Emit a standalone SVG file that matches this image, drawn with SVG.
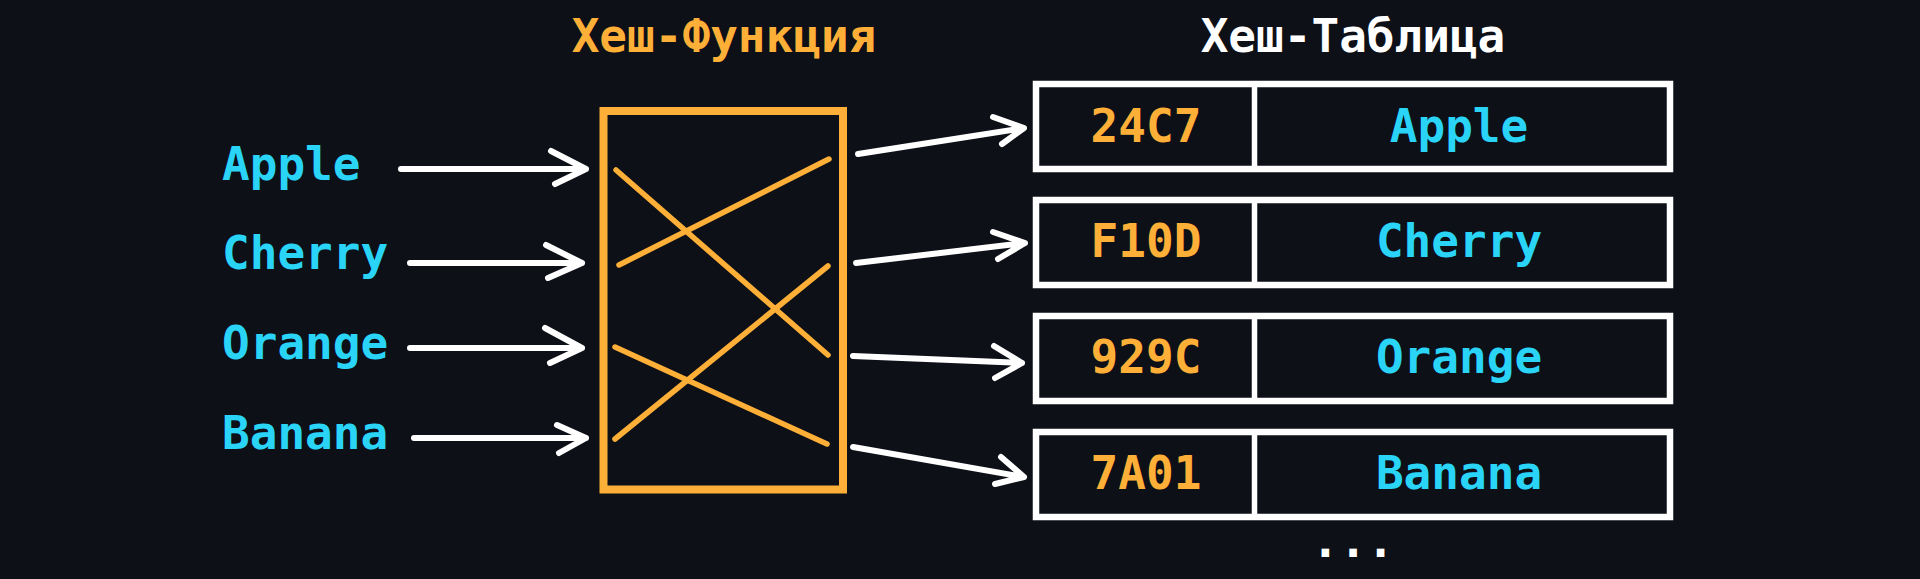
<svg xmlns="http://www.w3.org/2000/svg" width="1920" height="579" viewBox="0 0 1920 579">
<style>
.t{font-family:"DejaVu Sans Mono","Liberation Mono",monospace;font-weight:bold;font-size:46px}
.c{fill:#2AD4F7}
.o{fill:#FDAF38}
.w{fill:#FFFFFF}
.arr{fill:none;stroke:#FFFFFF;stroke-width:6;stroke-linecap:round;stroke-linejoin:round}
.x{fill:none;stroke:#FDAF38;stroke-width:5.5;stroke-linecap:round}
.cell{fill:none;stroke:#FFFFFF;stroke-width:6.5}
.div{stroke:#FFFFFF;stroke-width:5.5}
</style>
<rect width="1920" height="579" fill="#0D1017"/>
<g id="inputs">
<text class="t c" x="222" y="180">Apple</text>
<text class="t c" x="222" y="269">Cherry</text>
<text class="t c" x="222" y="359">Orange</text>
<text class="t c" x="222" y="449">Banana</text>
</g>
<g id="hash-function">
<text class="t o" x="724" y="52" text-anchor="middle">Хеш-Функция</text>
<rect x="603.5" y="111" width="239.5" height="378.5" fill="none" stroke="#FDAF38" stroke-width="8"/>
<line class="x" x1="616" y1="170" x2="828" y2="355"/>
<line class="x" x1="619" y1="265" x2="829" y2="159"/>
<line class="x" x1="828" y1="266" x2="615" y2="439"/>
<line class="x" x1="615" y1="347" x2="827" y2="444"/>
</g>
<g id="hash-table">
<text class="t w" x="1353" y="52" text-anchor="middle">Хеш-Таблица</text>
<g id="row-1">
<rect class="cell" x="1036" y="84" width="634" height="85"/>
<line class="div" x1="1254.5" y1="84" x2="1254.5" y2="169"/>
<text class="t o" x="1146" y="142" text-anchor="middle">24C7</text>
<text class="t c" x="1459" y="142" text-anchor="middle">Apple</text>
</g>
<g id="row-2">
<rect class="cell" x="1036" y="200" width="634" height="85"/>
<line class="div" x1="1254.5" y1="200" x2="1254.5" y2="285"/>
<text class="t o" x="1146" y="257" text-anchor="middle">F10D</text>
<text class="t c" x="1459" y="257" text-anchor="middle">Cherry</text>
</g>
<g id="row-3">
<rect class="cell" x="1036" y="316" width="634" height="85"/>
<line class="div" x1="1254.5" y1="316" x2="1254.5" y2="401"/>
<text class="t o" x="1146" y="373" text-anchor="middle">929C</text>
<text class="t c" x="1459" y="373" text-anchor="middle">Orange</text>
</g>
<g id="row-4">
<rect class="cell" x="1036" y="432" width="634" height="85"/>
<line class="div" x1="1254.5" y1="432" x2="1254.5" y2="517"/>
<text class="t o" x="1146" y="489" text-anchor="middle">7A01</text>
<text class="t c" x="1459" y="489" text-anchor="middle">Banana</text>
</g>
<text class="t w" x="1353" y="557" text-anchor="middle">...</text>
</g>
<g id="connectors">
<path class="arr" d="M401,169 H586 M551,151 L586,169 L555,184"/>
<path class="arr" d="M410,263 H582 M546,245 L582,263 L548,278"/>
<path class="arr" d="M410,348 H582 M545,328 L582,348 L550,363"/>
<path class="arr" d="M414,438 H586 M557,425 L586,438 L559,453"/>
<path class="arr" d="M858,154 L1024,128 M993,117 L1024,128 L1002,144"/>
<path class="arr" d="M856,263 L1025,243 M993,232 L1025,243 L998,259"/>
<path class="arr" d="M853,356 L1022,363 M994,346 L1022,363 L995,378"/>
<path class="arr" d="M853,447 L1024,477 M1001,457 L1024,477 L995,484"/>
</g>
</svg>
